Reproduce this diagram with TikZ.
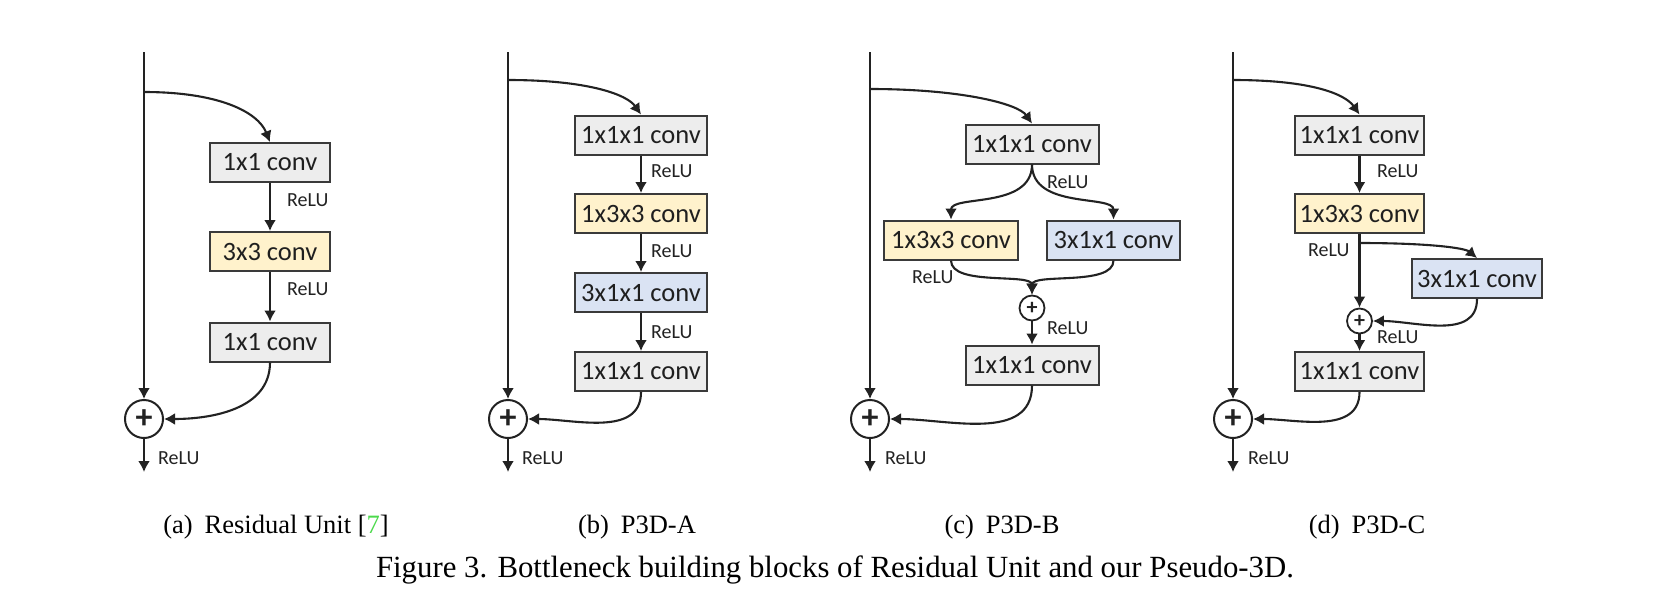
\documentclass[tikz,border=0pt]{standalone}
\usepackage{fontspec}
\setmainfont{Liberation Serif}
\newfontfamily\boxfont{Carlito}
\usetikzlibrary{arrows.meta}
\definecolor{linec}{HTML}{222222}
\definecolor{borderc}{HTML}{3A3A3A}
\definecolor{greyfill}{HTML}{EDEDED}
\definecolor{yelfill}{HTML}{FFF2CC}
\definecolor{bluefill}{HTML}{DAE3F3}
\definecolor{linkgreen}{HTML}{4CD94C}
\tikzset{
 conv/.style={draw=borderc, line width=2pt, minimum height=39pt, inner sep=0pt, font=\boxfont\fontsize{26.5}{30}\selectfont, text=black!88},
 gconv/.style={conv, fill=greyfill},
 yconv/.style={conv, fill=yelfill},
 bconv/.style={conv, fill=bluefill},
 bigplus/.style={circle, draw=linec, line width=2pt, minimum size=38pt, inner sep=0pt, font=\boxfont\bfseries\fontsize{34}{34}\selectfont, text=linec},
 smallplus/.style={circle, draw=linec, line width=1.8pt, minimum size=25pt, inner sep=0pt, font=\boxfont\bfseries\fontsize{22}{22}\selectfont, text=linec},
 relu/.style={font=\boxfont\fontsize{20}{24}\selectfont, anchor=west, inner sep=0pt, text=linec},
 conn/.style={draw=linec, line width=2.1pt, -{Latex[length=11pt,width=12pt]}},
 subcap/.style={font=\fontsize{26.5}{32}\selectfont, anchor=base, inner sep=0pt},
 figcap/.style={font=\fontsize{30.8}{36}\selectfont, anchor=base, inner sep=0pt},
}
\begin{document}
\begin{tikzpicture}[x=1pt,y=-1pt]
\useasboundingbox (0,0) rectangle (1672,590);
% ---------- (a)
\coordinate (atop) at (144,52);
\coordinate (abr) at (144,92);
\coordinate (aout) at (144,472);
\node[bigplus] (aplus) at (144,419) {+};
\node[gconv, minimum width=120pt] (a1) at (270,162.5) {1x1 conv};
\node[yconv, minimum width=120pt] (a2) at (270,251.5) {3x3 conv};
\node[gconv, minimum width=120pt] (a3) at (270,342) {1x1 conv};
\node[relu] (ar1) at (287,200) {ReLU};
\node[relu] (ar2) at (287,289) {ReLU};
\node[relu] (ar3) at (158,458) {ReLU};
\draw[conn] (atop) -- (aplus);
\draw[conn] (abr) .. controls +(75,0) and +(-12,-30) .. (a1.north);
\draw[conn] (a1) -- (a2);
\draw[conn] (a2) -- (a3);
\draw[conn] (a3) to[out=-90,in=0] (aplus);
\draw[conn] (aplus) -- (aout);
% ---------- (b)
\coordinate (btop) at (508,52);
\coordinate (bbr) at (508,80);
\coordinate (bout) at (508,472);
\node[bigplus] (bplus) at (508,419) {+};
\node[gconv, minimum width=132pt] (b1) at (641,135) {1x1x1 conv};
\node[yconv, minimum width=132pt] (b2) at (641,213.5) {1x3x3 conv};
\node[bconv, minimum width=132pt] (b3) at (641,292.5) {3x1x1 conv};
\node[gconv, minimum width=132pt] (b4) at (641,371.5) {1x1x1 conv};
\node[relu] (br1) at (651,171) {ReLU};
\node[relu] (br2) at (651,251) {ReLU};
\node[relu] (br3) at (651,332) {ReLU};
\node[relu] (br4) at (522,458) {ReLU};
\draw[conn] (btop) -- (bplus);
\draw[conn] (bbr) .. controls +(80,0) and +(-14,-20) .. (b1.north);
\draw[conn] (b1) -- (b2);
\draw[conn] (b2) -- (b3);
\draw[conn] (b3) -- (b4);
\draw[conn] (b4) to[out=-90,in=0] (bplus);
\draw[conn] (bplus) -- (bout);
% ---------- (c)
\coordinate (ctop) at (870,52);
\coordinate (cbr) at (870,89);
\coordinate (cout) at (870,472);
\node[bigplus] (cplus) at (870,419) {+};
\node[gconv, minimum width=133pt] (c1) at (1032,144) {1x1x1 conv};
\node[yconv, minimum width=134pt] (c2) at (951,240) {1x3x3 conv};
\node[bconv, minimum width=133pt] (c3) at (1113.5,240) {3x1x1 conv};
\node[smallplus] (cp) at (1032,308) {+};
\node[gconv, minimum width=133pt] (c4) at (1032,365) {1x1x1 conv};
\node[relu] (cr1) at (1047,182) {ReLU};
\node[relu] (cr2) at (912,277) {ReLU};
\node[relu] (cr3) at (1047,328) {ReLU};
\node[relu] (cr4) at (885,458) {ReLU};
\draw[conn] (ctop) -- (cplus);
\draw[conn] (cbr) .. controls +(90,0) and +(-14,-20) .. (c1.north);
\draw[conn] (c1.south) .. controls +(0,45) and +(0,-25) .. (c2.north);
\draw[conn] (c1.south) .. controls +(0,45) and +(0,-25) .. (c3.north);
\draw[conn] (c2.south) .. controls +(0,26) and +(0,-22) .. (cp.north);
\draw[conn] (c3.south) .. controls +(0,26) and +(0,-22) .. (cp.north);
\draw[conn] (cp) -- (c4);
\draw[conn] (c4) to[out=-90,in=0] (cplus);
\draw[conn] (cplus) -- (cout);
% ---------- (d)
\coordinate (dtop) at (1233,52);
\coordinate (dbr) at (1233,80);
\coordinate (dout) at (1233,472);
\node[bigplus] (dplus) at (1233,419) {+};
\node[gconv, minimum width=129pt] (d1) at (1359.5,135) {1x1x1 conv};
\node[yconv, minimum width=129pt] (d2) at (1359.5,213.5) {1x3x3 conv};
\node[bconv, minimum width=130pt] (d3) at (1477,278.5) {3x1x1 conv};
\node[smallplus] (dp) at (1359.5,321) {+};
\node[gconv, minimum width=129pt] (d4) at (1359.5,371.5) {1x1x1 conv};
\coordinate (dsplit) at (1359.5,243);
\node[relu] (dr1) at (1377,171) {ReLU};
\node[relu] (dr2) at (1308,250) {ReLU};
\node[relu] (dr3) at (1377,337) {ReLU};
\node[relu] (dr4) at (1248,458) {ReLU};
\draw[conn] (dtop) -- (dplus);
\draw[conn] (dbr) .. controls +(80,0) and +(-14,-20) .. (d1.north);
\draw[conn] (d1) -- (d2);
\draw[conn] (d2) -- (dp);
\draw[conn] (dsplit) .. controls +(70,0) and +(-12,-10) .. (d3.north);
\draw[conn] (d3) to[out=-90,in=0] (dp);
\draw[conn] (dp) -- (d4);
\draw[conn] (d4) to[out=-90,in=0] (dplus);
\draw[conn] (dplus) -- (dout);
% ---------- captions
\node[subcap] (capa) at (276,533) {(a)\hspace{0.45em}Residual Unit [{\color{linkgreen}7}]};
\node[subcap] (capb) at (637,533) {(b)\hspace{0.45em}P3D-A};
\node[subcap] (capc) at (1002,533) {(c)\hspace{0.45em}P3D-B};
\node[subcap] (capd) at (1367,533) {(d)\hspace{0.45em}P3D-C};
\node[figcap] (fig) at (835,577) {Figure 3. Bottleneck building blocks of Residual Unit and our Pseudo-3D.};
\end{tikzpicture}
\end{document}
